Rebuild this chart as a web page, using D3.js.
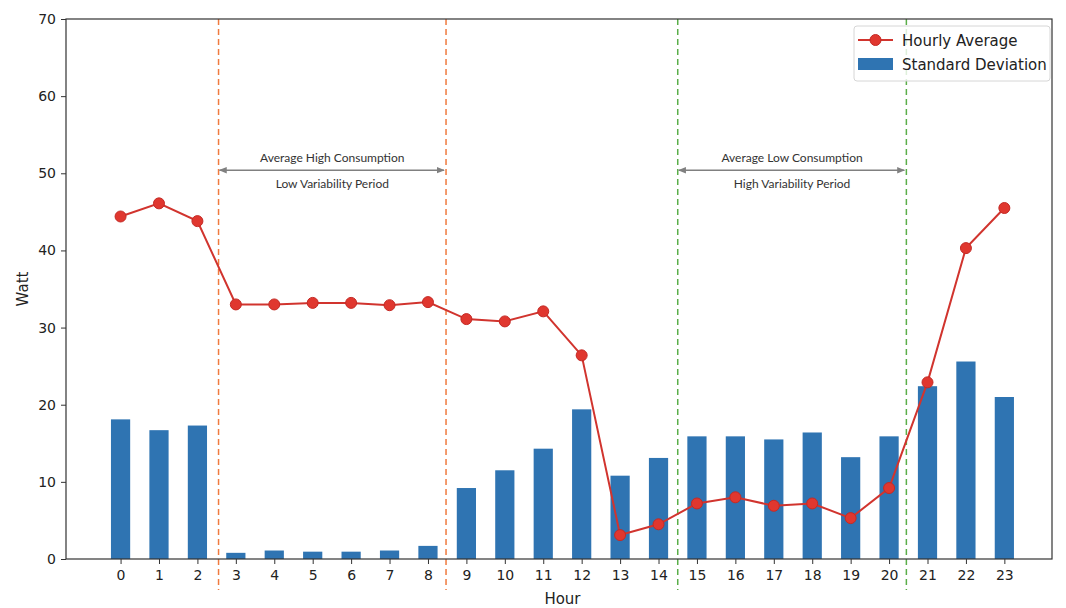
<!DOCTYPE html>
<html>
<head>
<meta charset="utf-8">
<script src="https://cdn.jsdelivr.net/npm/d3@7"></script>
<style>
  body { margin: 0; background: #fff; }
  svg { display: block; }
</style>
</head>
<body>
<svg id="chart" width="1066" height="608"></svg>
<script>
// Hours of the day
const hours = d3.range(0, 24);
// Mean power draw per hour (W)
const hourlyAverage = [44.4, 46.1, 43.8, 33.0, 33.0, 33.2, 33.2, 32.9, 33.3, 31.1, 30.8, 32.1,
                       26.4, 3.1, 4.5, 7.2, 8.0, 6.9, 7.2, 5.3, 9.2, 22.9, 40.3, 45.5];
// Standard deviation per hour (W)
const standardDeviation = [18.1, 16.7, 17.3, 0.8, 1.1, 0.95, 0.95, 1.1, 1.7, 9.2, 11.5, 14.3,
                           19.4, 10.8, 13.1, 15.9, 15.9, 15.5, 16.4, 13.2, 15.9, 22.4, 25.6, 21.0];
const yTicks = [0, 10, 20, 30, 40, 50, 60, 70];
// Period boundaries (hour positions) and their captions
const periodBounds = [[2.55, 8.47], [14.5, 20.45]];
const periodColors = ["#f07a3e", "#5aae48"];
const periodLabels = [["Average High Consumption", "Low Variability Period"],
                      ["Average Low Consumption", "High Variability Period"]];
const arrowLevel = 50.4;

const svg = d3.select("#chart");
const L = 66, R = 1052, T = 19, B = 559;

const x = d3.scaleLinear().domain([-1.42, 24.24]).range([L, R]);
const y = d3.scaleLinear().domain([0, 70]).range([B, T]);

const barColor = "#2f74b2";
const lineColor = "#d1342e";
const tickFont = "DejaVu Sans, sans-serif";

// Bars: standard deviation
const barW = x(0.5) - x(0);
svg.append("g").selectAll("rect").data(hours).join("rect")
  .attr("x", d => x(d) - barW / 2)
  .attr("y", d => y(standardDeviation[d]))
  .attr("width", barW)
  .attr("height", d => y(0) - y(standardDeviation[d]))
  .attr("fill", barColor);

// Period boundaries (dashed verticals, extending below the axis)
periodBounds.forEach((pair, i) => {
  pair.forEach(h => {
    svg.append("line")
      .attr("x1", x(h)).attr("x2", x(h))
      .attr("y1", T).attr("y2", 590)
      .attr("stroke", periodColors[i])
      .attr("stroke-width", 1.5)
      .attr("stroke-dasharray", "6,4");
  });
});

// Arrow markers
const defs = svg.append("defs");
["start", "end"].forEach(k => {
  const m = defs.append("marker")
    .attr("id", "arrow-" + k)
    .attr("viewBox", "0 0 10 10")
    .attr("refX", k === "end" ? 9 : 1).attr("refY", 5)
    .attr("markerWidth", 8).attr("markerHeight", 8)
    .attr("markerUnits", "userSpaceOnUse")
    .attr("orient", "auto");
  m.append("path")
    .attr("d", k === "end" ? "M0,1 L10,5 L0,9 Z" : "M10,1 L0,5 L10,9 Z")
    .attr("fill", "#808080");
});

// Period annotations
periodBounds.forEach((pair, i) => {
  const xa = x(pair[0]), xb = x(pair[1]);
  svg.append("line")
    .attr("x1", xa + 1).attr("x2", xb - 2)
    .attr("y1", y(arrowLevel)).attr("y2", y(arrowLevel))
    .attr("stroke", "#808080").attr("stroke-width", 1.5)
    .attr("marker-start", "url(#arrow-start)")
    .attr("marker-end", "url(#arrow-end)");
  const cx = (xa + xb) / 2;
  svg.append("text").attr("x", cx).attr("y", y(arrowLevel) - 8)
    .attr("text-anchor", "middle")
    .attr("font-family", "Lato, 'Open Sans', sans-serif").attr("font-size", 12)
    .attr("fill", "#333").text(periodLabels[i][0]);
  svg.append("text").attr("x", cx).attr("y", y(arrowLevel) + 18)
    .attr("text-anchor", "middle")
    .attr("font-family", "Lato, 'Open Sans', sans-serif").attr("font-size", 12)
    .attr("fill", "#333").text(periodLabels[i][1]);
});

// Hourly average line with markers
const line = d3.line().x(d => x(d)).y(d => y(hourlyAverage[d]));
svg.append("path").datum(hours)
  .attr("d", line)
  .attr("fill", "none")
  .attr("stroke", lineColor)
  .attr("stroke-width", 2);
svg.append("g").selectAll("circle").data(hours).join("circle")
  .attr("cx", d => x(d))
  .attr("cy", d => y(hourlyAverage[d]))
  .attr("r", 5.5)
  .attr("fill", "#e0372f")
  .attr("stroke", "#c42a25")
  .attr("stroke-width", 1);

// Frame
svg.append("rect")
  .attr("x", L).attr("y", T).attr("width", R - L).attr("height", B - T)
  .attr("fill", "none").attr("stroke", "#333").attr("stroke-width", 1.2);

// Axes
const xAxis = svg.append("g").attr("transform", `translate(0,${B})`)
  .call(d3.axisBottom(x).tickValues(hours).tickFormat(d3.format("d")).tickSize(5).tickPadding(6));
const yAxis = svg.append("g").attr("transform", `translate(${L},0)`)
  .call(d3.axisLeft(y).tickValues(yTicks).tickSize(5).tickPadding(5));
[xAxis, yAxis].forEach(g => {
  g.select(".domain").remove();
  g.selectAll("line").attr("stroke", "#333");
  g.selectAll("text").attr("font-family", tickFont).attr("font-size", 14).attr("fill", "#222");
});

// Axis titles
svg.append("text").attr("x", x(11.5)).attr("y", 604)
  .attr("text-anchor", "middle").attr("font-family", tickFont).attr("font-size", 15)
  .attr("fill", "#222").text("Hour");
svg.append("text")
  .attr("transform", `translate(28,${(T + B) / 2}) rotate(-90)`)
  .attr("text-anchor", "middle").attr("font-family", tickFont).attr("font-size", 15)
  .attr("fill", "#222").text("Watt");

// Legend
const lg = svg.append("g").attr("transform", "translate(854,26)");
lg.append("rect").attr("width", 196).attr("height", 55).attr("rx", 3)
  .attr("fill", "#fff").attr("fill-opacity", 0.8)
  .attr("stroke", "#d6d6d6");
lg.append("line").attr("x1", 4).attr("x2", 39).attr("y1", 14).attr("y2", 14)
  .attr("stroke", lineColor).attr("stroke-width", 2);
lg.append("circle").attr("cx", 21.5).attr("cy", 14).attr("r", 5.5)
  .attr("fill", "#e0372f").attr("stroke", "#c42a25");
lg.append("rect").attr("x", 4).attr("y", 32).attr("width", 35).attr("height", 12)
  .attr("fill", barColor);
lg.append("text").attr("x", 48).attr("y", 19.5).attr("font-family", tickFont)
  .attr("font-size", 15).attr("fill", "#222").text("Hourly Average");
lg.append("text").attr("x", 48).attr("y", 43.5).attr("font-family", tickFont)
  .attr("font-size", 15).attr("fill", "#222").text("Standard Deviation");
</script>
</body>
</html>
